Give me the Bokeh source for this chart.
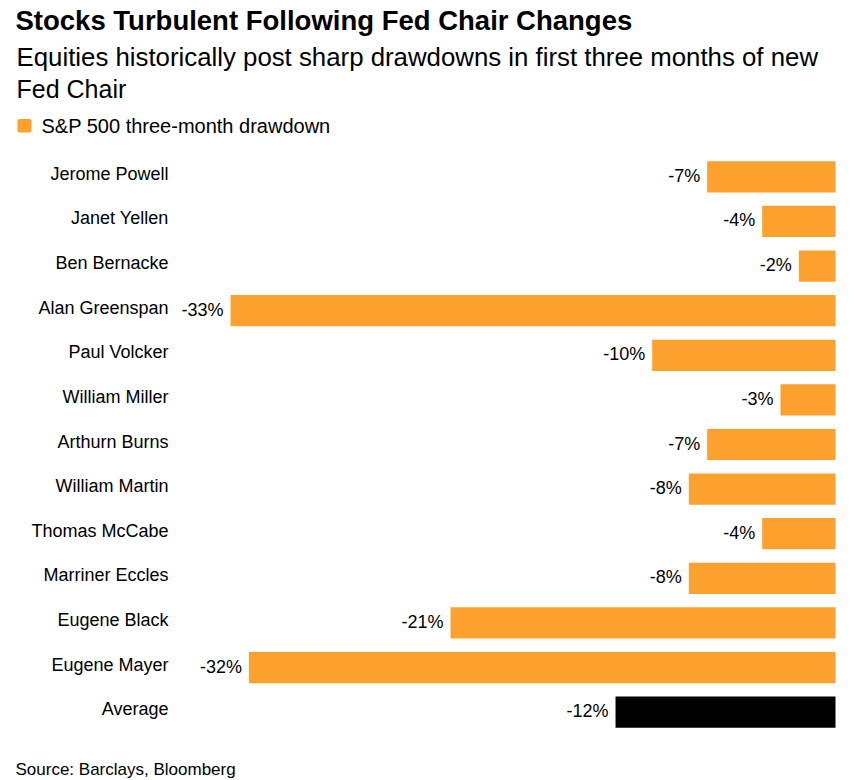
from bokeh.plotting import figure
from bokeh.models import Range1d, ColumnDataSource
from bokeh.core.properties import value
from bokeh.embed import file_html
from bokeh.resources import INLINE

chairs = ["Jerome Powell", "Janet Yellen", "Ben Bernacke", "Alan Greenspan", "Paul Volcker",
          "William Miller", "Arthurn Burns", "William Martin", "Thomas McCabe", "Marriner Eccles",
          "Eugene Black", "Eugene Mayer", "Average"]
drawdown = [-7, -4, -2, -33, -10, -3, -7, -8, -4, -8, -21, -32, -12]
labels = ["-7%", "-4%", "-2%", "-33%", "-10%", "-3%", "-7%", "-8%", "-4%", "-8%", "-21%", "-32%", "-12%"]

title = "Stocks Turbulent Following Fed Chair Changes"
subtitle1 = "Equities historically post sharp drawdowns in first three months of new"
subtitle2 = "Fed Chair"
legend_text = "S&P 500 three-month drawdown"
source_text = "Source: Barclays, Bloomberg"

ORANGE = "#FCA12D"
FONT = "Liberation Sans"

# ---- layout (pixels) ----
W, H = 847, 778
PLOT_L, PLOT_R = 176, 835      # pixel span of the value axis (-35.95 .. 0)
VMIN = -35.95
ROWS_TOP, ROWS_BOTTOM = 154, 734
n = len(chairs)
ROW_H = (ROWS_BOTTOM - ROWS_TOP) / n
PX_PER_UNIT = (PLOT_R - PLOT_L) / (0 - VMIN)


def X(px):
    return VMIN + (px - PLOT_L) / PX_PER_UNIT


def Y(py):
    return (py - ROWS_TOP) / ROW_H - 0.5


p = figure(width=W, height=H, output_backend="svg", toolbar_location=None, title=None,
           x_range=Range1d(X(0), X(W)), y_range=Range1d(Y(H), Y(0)),
           min_border_left=0, min_border_right=0, min_border_top=0, min_border_bottom=0)
p.axis.visible = False
p.grid.visible = False
p.outline_line_color = None
p.background_fill_color = "white"
p.border_fill_color = "white"

rows = list(range(n))
colors = [ORANGE] * (n - 1) + ["#000000"]
src = ColumnDataSource(dict(row=rows, name=chairs, v=drawdown, lab=labels, c=colors,
                            z=[0] * n, lx=[X(168)] * n))

p.hbar(y="row", left="v", right="z", height=0.7, color="c", line_color=None, source=src)
p.text(x="v", y="row", text="lab", source=src, x_offset=-7, y_offset=-1, text_align="right",
       text_baseline="middle", text_font=value(FONT), text_font_size="18px", text_color="#000000")
p.text(x="lx", y="row", text="name", source=src, y_offset=-3, text_align="right",
       text_baseline="middle", text_font=value(FONT), text_font_size="18px", text_color="#000000")


def txt(s, px, py_mid, size, bold=False):
    p.text(x=[X(px)], y=[Y(py_mid)], text=[s], text_font=value(FONT), text_font_size=size,
           text_font_style="bold" if bold else "normal", text_color="#000000",
           text_baseline="middle", text_align="left")


txt(title, 15, 19.5, "27.5px", bold=True)
txt(subtitle1, 16, 56.5, "25.8px")
txt(subtitle2, 16, 88.5, "25px")
p.quad(left=[X(17)], right=[X(31)], top=[Y(118.5)], bottom=[Y(132)], color=ORANGE,
       line_color=None, border_radius=2)
txt(legend_text, 41, 125, "20px")
txt(source_text, 15, 769, "17px")

open("out.html", "w").write(file_html(p, INLINE))
